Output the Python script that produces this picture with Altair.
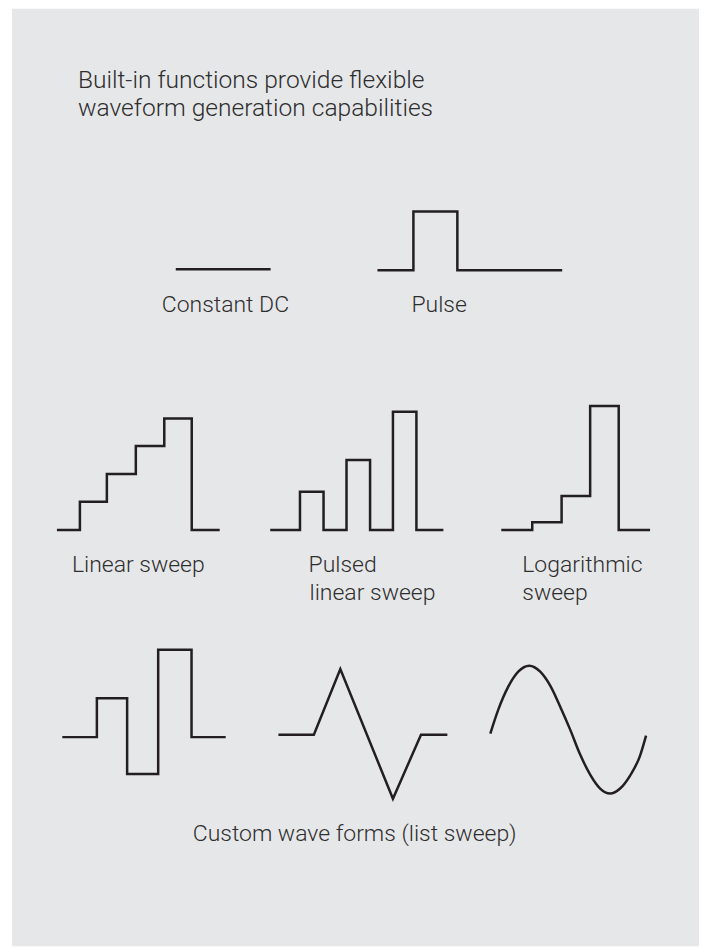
import altair as alt
import pandas as pd

# ---- waveform shapes: time (t) and level (v) in local units ----
dc_t = [0, 95]
dc_v = [0, 0]

pulse_t = [0, 36, 36, 80, 80, 185]
pulse_v = [0, 0, 59, 59, 0, 0]

lin_t = [0, 23, 23, 50, 50, 79, 79, 107.5, 107.5, 135, 135, 163]
lin_v = [0, 0, 28.3, 28.3, 56, 56, 84, 84, 111.7, 111.7, 0, 0]

plin_t = [0, 29.8, 29.8, 53.4, 53.4, 76.4, 76.4, 100, 100, 122.9, 122.9, 146.4, 146.4, 173.4]
plin_v = [0, 0, 38.3, 38.3, 0, 0, 70, 70, 0, 0, 118.3, 118.3, 0, 0]

log_t = [0, 31, 31, 60.4, 60.4, 89, 89, 117.6, 117.6, 149]
log_v = [0, 0, 7.7, 7.7, 34, 34, 124, 124, 0, 0]

cust_t = [0, 34.6, 34.6, 64.9, 64.9, 96, 96, 129.4, 129.4, 163.6]
cust_v = [0, 0, 39, 39, -37, -37, 87.5, 87.5, 0, 0]

tri_t = [0, 35.5, 62, 114.7, 142.8, 169.2]
tri_v = [0, 0, 65.7, -64.3, 0, 0]

sine_t = [0, 8, 18, 28, 39, 50, 60, 70, 80, 90, 100, 110, 120, 130, 140, 150, 156]
sine_v = [-4, 20, 43, 58, 64, 58, 44, 23, 0, -25, -45, -59, -64, -59, -46, -26, -6]

# ---- text ----
title_lines = ["Built-in functions provide flexible", "waveform generation capabilities"]
labels = ["Constant DC", "Pulse", "Linear sweep", "Pulsed", "linear sweep",
          "Logarithmic", "sweep", "Custom wave forms (list sweep)"]

# ---- layout (anchors on the page canvas) ----
anchors = {
    "dc": (176, 269), "pulse": (378, 270), "lin": (57, 530), "plin": (270.6, 530),
    "log": (502, 530), "cust": (62.4, 737.5), "tri": (278.8, 735), "sine": (491, 730),
}
shapes = {
    "dc": (dc_t, dc_v), "pulse": (pulse_t, pulse_v), "lin": (lin_t, lin_v),
    "plin": (plin_t, plin_v), "log": (log_t, log_v), "cust": (cust_t, cust_v),
    "tri": (tri_t, tri_v), "sine": (sine_t, sine_v),
}
rows = []
for name, (ts, vs) in shapes.items():
    x0, y0 = anchors[name]
    for i, (t, v) in enumerate(zip(ts, vs)):
        rows.append({"id": name, "i": i, "x": x0 + t, "y": y0 - v})
df = pd.DataFrame(rows)

title_pos = [(78, 87), (78, 115)]
label_pos = [(162, 312), (412, 312), (72, 572), (309, 572), (310, 600),
             (523, 572), (523, 600), (193, 842)]
title_df = pd.DataFrame({"text": title_lines,
                         "x": [p[0] for p in title_pos], "y": [p[1] for p in title_pos]})
label_df = pd.DataFrame({"text": labels,
                         "x": [p[0] for p in label_pos], "y": [p[1] for p in label_pos]})

W, H = 688, 939
xs = alt.Scale(domain=[12, 700], zero=False, nice=False)
ys = alt.Scale(domain=[8, 8 + H], zero=False, nice=False, reverse=True)

INK = "#231f20"
TXT = "#2e2e2e"

steps = alt.Chart(df[df.id != "sine"]).mark_line(
    color=INK, strokeWidth=2.5, strokeJoin="miter", strokeCap="butt"
).encode(
    x=alt.X("x:Q", scale=xs, axis=None),
    y=alt.Y("y:Q", scale=ys, axis=None),
    detail="id:N",
    order="i:Q",
)

sine = alt.Chart(df[df.id == "sine"]).mark_line(
    color=INK, strokeWidth=2.5, interpolate="monotone", strokeCap="butt"
).encode(
    x=alt.X("x:Q", scale=xs, axis=None),
    y=alt.Y("y:Q", scale=ys, axis=None),
    order="i:Q",
)

title_text = alt.Chart(title_df).mark_text(
    align="left", baseline="alphabetic", font="Roboto", fontWeight=300,
    fontSize=24.6, color=TXT
).encode(
    x=alt.X("x:Q", scale=xs, axis=None),
    y=alt.Y("y:Q", scale=ys, axis=None),
    text="text:N",
)

label_text = alt.Chart(label_df).mark_text(
    align="left", baseline="alphabetic", font="Roboto", fontWeight=300,
    fontSize=23, color=TXT
).encode(
    x=alt.X("x:Q", scale=xs, axis=None),
    y=alt.Y("y:Q", scale=ys, axis=None),
    text="text:N",
)

chart = alt.layer(steps, sine, title_text, label_text).properties(
    width=W, height=H, autosize="none",
    padding={"left": 4, "top": 0, "right": 0, "bottom": 0},
    background="white",
).configure_view(fill="#e6e7e9", strokeWidth=0)

chart.save("out.html", embed_options={"renderer": "svg", "actions": False})
